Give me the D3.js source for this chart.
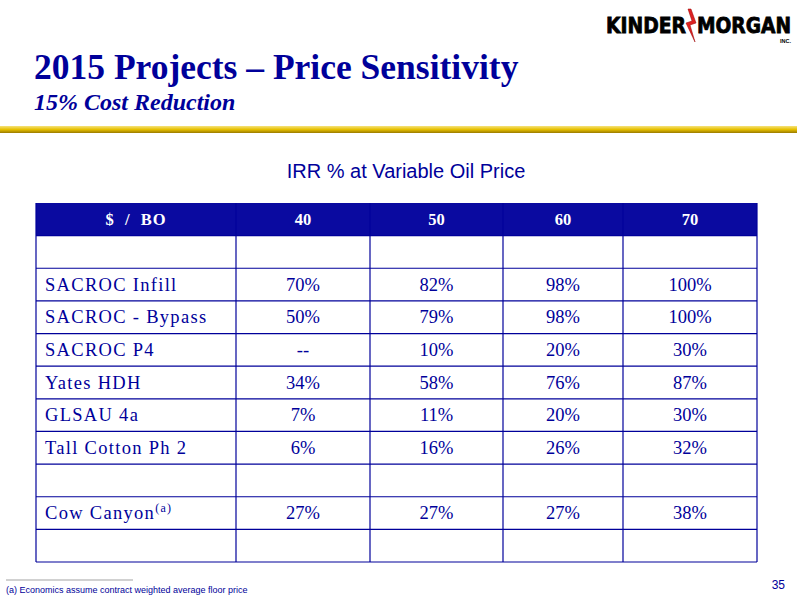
<!DOCTYPE html><html><head><meta charset="utf-8"><script src="https://cdn.jsdelivr.net/npm/d3@7"></script>
<style>body{margin:0;background:#fff}</style></head><body><svg id="s" width="800" height="600"></svg><script>
const columns=["$ / BO","40","50","60","70"];
const projects=["","SACROC Infill","SACROC - Bypass","SACROC P4","Yates HDH","GLSAU 4a","Tall Cotton Ph 2","","Cow Canyon",""];
const irr=[["","","",""],["70%","82%","98%","100%"],["50%","79%","98%","100%"],["--","10%","20%","30%"],["34%","58%","76%","87%"],["7%","11%","20%","30%"],["6%","16%","26%","32%"],["","","",""],["27%","27%","27%","38%"],["","","",""]];
const svg=d3.select("#s"),navy="#00009a",serif="Liberation Serif,Times New Roman",sans="Liberation Sans,Arial";
// logo
svg.append("text").attr("x",606).attr("y",33).attr("font-family","DejaVu Sans").attr("font-weight","bold").attr("font-size",21).attr("textLength",80).attr("lengthAdjust","spacingAndGlyphs").attr("fill","#000").attr("stroke","#000").attr("stroke-width",0.8).text("KINDER");
svg.append("path").attr("d","M688,9 L692,21 L686,23 L695,42 L690,25 L696,23 L691,9Z").attr("fill","#d22").attr("stroke","#900").attr("stroke-width",0.5);
svg.append("text").attr("x",697).attr("y",33).attr("font-family","DejaVu Sans").attr("font-weight","bold").attr("font-size",21).attr("textLength",94).attr("lengthAdjust","spacingAndGlyphs").attr("fill","#000").attr("stroke","#000").attr("stroke-width",0.8).text("MORGAN");
svg.append("text").attr("x",791).attr("y",43).attr("text-anchor","end").attr("font-family",sans).attr("font-weight","bold").attr("font-size",5.5).text("INC.");
svg.append("text").attr("x",34).attr("y",79).attr("font-family",serif).attr("font-weight","bold").attr("font-size",35.5).attr("fill",navy).text("2015 Projects – Price Sensitivity");
svg.append("text").attr("x",34).attr("y",110).attr("font-family",serif).attr("font-weight","bold").attr("font-style","italic").attr("font-size",24).attr("fill",navy).text("15% Cost Reduction");
const g=svg.append("defs").append("linearGradient").attr("id","gb").attr("x1",0).attr("x2",0).attr("y1",0).attr("y2",1);
g.append("stop").attr("offset",0).attr("stop-color","#f6e27a");g.append("stop").attr("offset",0.5).attr("stop-color","#e6c000");g.append("stop").attr("offset",1).attr("stop-color","#9a7a00");
svg.append("rect").attr("x",0).attr("y",126).attr("width",797).attr("height",7).attr("fill","url(#gb)");
svg.append("text").attr("x",406).attr("y",178).attr("text-anchor","middle").attr("font-family",sans).attr("font-size",20).attr("fill",navy).text("IRR % at Variable Oil Price");
// table
const xs=[36,236,370,503,623,757];
const y=d3.scaleBand().domain(d3.range(projects.length+1)).range([203,562]).paddingInner(0);
const h=y.bandwidth();
svg.append("rect").attr("x",36).attr("y",y(0)).attr("width",721).attr("height",h).attr("fill","#0a0aa0");
columns.forEach((c,i)=>svg.append("text").attr("x",(xs[i]+xs[i+1])/2).attr("y",y(0)+h/2+6).attr("text-anchor","middle").attr("font-family",serif).attr("font-weight","bold").attr("font-size",16.5).attr("fill","#fff").attr("letter-spacing",i?0:1).attr("xml:space","preserve").text(i?c:"$  /  BO"));
for(let r=1;r<=projects.length+1;r++)svg.append("line").attr("x1",36).attr("x2",757).attr("y1",r<=projects.length?y(r):562).attr("y2",r<=projects.length?y(r):562).attr("stroke",navy).attr("stroke-width",1.2);
xs.forEach((x,i)=>svg.append("line").attr("x1",x).attr("x2",x).attr("y1",y(0)).attr("y2",562).attr("stroke",navy).attr("stroke-width",1.2));
projects.forEach((p,r)=>{
  const cy=y(r+1)+h/2+6;
  if(p){const t=svg.append("text").attr("x",45).attr("y",cy).attr("font-family",serif).attr("font-size",18.5).attr("fill",navy).attr("letter-spacing",1.3).text(p);
    if(p==="Cow Canyon")t.append("tspan").attr("dy",-7).attr("font-size",12).text("(a)");}
  irr[r].forEach((v,i)=>svg.append("text").attr("x",(xs[i+1]+xs[i+2])/2).attr("y",cy).attr("text-anchor","middle").attr("font-family",serif).attr("font-size",18.5).attr("fill",navy).text(v));
});
svg.append("line").attr("x1",6).attr("x2",133).attr("y1",580).attr("y2",580).attr("stroke","#666").attr("stroke-width",0.6);
svg.append("text").attr("x",6).attr("y",593).attr("font-family",sans).attr("font-size",9).attr("fill",navy).text("(a)  Economics assume contract weighted average floor price");
svg.append("text").attr("x",785).attr("y",589).attr("text-anchor","end").attr("font-family",sans).attr("font-size",12).attr("fill",navy).text("35");
</script></body></html>
